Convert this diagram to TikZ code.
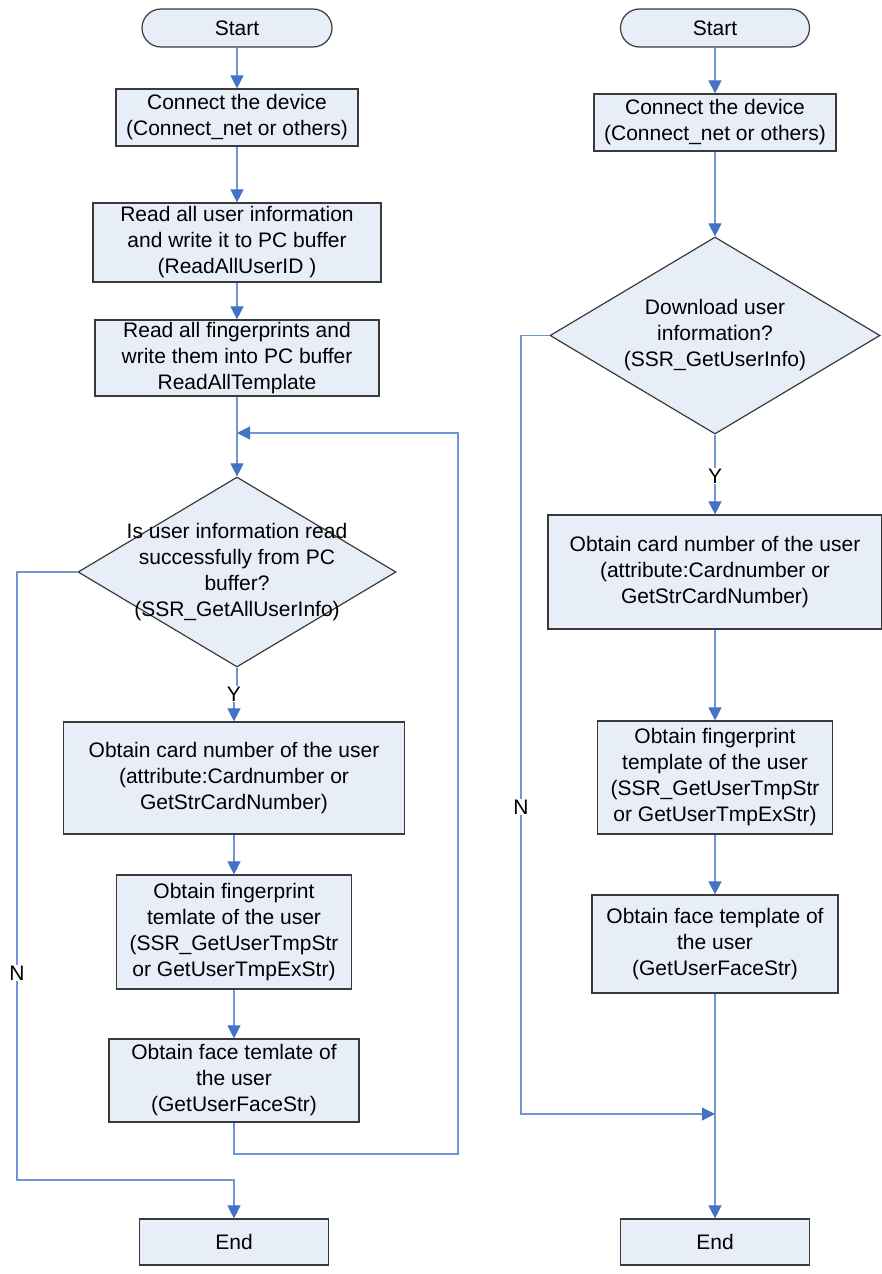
\documentclass[tikz,border=0pt]{standalone}
\usepackage{fontspec}
\setmainfont{Liberation Sans}
\usetikzlibrary{shapes.geometric,arrows.meta}
\definecolor{boxfill}{HTML}{E8EEF8}
\definecolor{boxline}{HTML}{3A3A3A}
\definecolor{connc}{HTML}{6E96D2}
\definecolor{tipc}{HTML}{4472C4}
\begin{document}
\begin{tikzpicture}[x=1pt,y=-1pt,
  every node/.style={font=\fontsize{21}{26}\selectfont, align=center},
  box/.style={draw=boxline, fill=boxfill, line width=1.2pt, inner sep=0pt},
  term/.style={box, rounded corners=19pt},
  dec/.style={draw=boxline, fill=boxfill, line width=1.2pt, diamond, inner sep=0pt},
  link/.style={draw=connc, line width=1.1pt},
  arr/.style={link, -{Triangle[width=13pt,length=13pt,fill=tipc,color=tipc]}},
  lab/.style={fill=white, inner sep=1pt}]
\useasboundingbox (0,0) rectangle (881,1274);

% ---------- left chart ----------
\node[term, minimum width=190, minimum height=38] (ls) at (237,28) {Start};
\node[box, minimum width=242, minimum height=57] (l1) at (237,117.5) {Connect the device\\(Connect\_net or others)};
\node[box, minimum width=288, minimum height=79] (l2) at (237,242.5) {Read all user information\\and write it to PC buffer\\(ReadAllUserID )};
\node[box, minimum width=284, minimum height=76] (l3) at (237,358) {Read all fingerprints and\\write them into PC buffer\\ReadAllTemplate};
\node[dec, minimum width=318, minimum height=190] (ld) at (237,572) {};
\node (ldt) at (237,572) {Is user information read\\successfully from PC\\buffer?\\(SSR\_GetAllUserInfo)};
\node[box, minimum width=341, minimum height=112] (l4) at (234,778) {Obtain card number of the user\\(attribute:Cardnumber or\\GetStrCardNumber)};
\node[box, minimum width=235, minimum height=114] (l5) at (234,932) {Obtain fingerprint\\temlate of the user\\(SSR\_GetUserTmpStr\\or GetUserTmpExStr)};
\node[box, minimum width=250, minimum height=83] (l6) at (234,1080.5) {Obtain face temlate of\\the user\\(GetUserFaceStr)};
\node[box, minimum width=189, minimum height=46] (le) at (234,1242) {End};
\node[lab] (ly) at (234,694) {Y};

\coordinate (lm) at (237,433);
\coordinate (lr) at (458,1154);
\coordinate (lc) at (17,1180);

\draw[arr] (ls.south) -- (l1.north);
\draw[arr] (l1.south) -- (l2.north);
\draw[arr] (l2.south) -- (l3.north);
\draw[arr] (l3.south) -- (ld.north);
\draw[link] (ld.south) -- (ld.south |- ly.north);
\draw[arr] (l4.north |- ly.south) -- (l4.north);
\draw[arr] (l4.south) -- (l5.north);
\draw[arr] (l5.south) -- (l6.north);
\draw[arr] (l6.south) |- (lr) |- (lm);
\draw[arr] (ld.west) -| (lc) -| (le.north);
\node[lab] (ln) at (17,973) {N};

% ---------- right chart ----------
\node[term, minimum width=189, minimum height=38] (rs) at (715,28) {Start};
\node[box, minimum width=242, minimum height=57] (r1) at (715,122.5) {Connect the device\\(Connect\_net or others)};
\node[dec, minimum width=330, minimum height=197] (rd) at (715,335.5) {};
\node (rdt) at (715,335) {Download user\\information?\\(SSR\_GetUserInfo)};
\node[box, minimum width=334, minimum height=114] (r2) at (715,572) {Obtain card number of the user\\(attribute:Cardnumber or\\GetStrCardNumber)};
\node[box, minimum width=235, minimum height=113] (r3) at (715,777.5) {Obtain fingerprint\\template of the user\\(SSR\_GetUserTmpStr\\or GetUserTmpExStr)};
\node[box, minimum width=246, minimum height=98] (r4) at (715,944) {Obtain face template of\\the user\\(GetUserFaceStr)};
\node[box, minimum width=189, minimum height=46] (re) at (715,1242) {End};
\node[lab] (ry) at (715,476) {Y};

\coordinate (rc) at (521,1114);
\coordinate (rm) at (715,1114);

\draw[arr] (rs.south) -- (r1.north);
\draw[arr] (r1.south) -- (rd.north);
\draw[link] (rd.south) -- (ry.north);
\draw[arr] (ry.south) -- (r2.north);
\draw[arr] (r2.south) -- (r3.north);
\draw[arr] (r3.south) -- (r4.north);
\draw[arr] (r4.south) -- (re.north);
\draw[arr] (rd.west) -| (rc) -- (rm);
\node[lab] (rn) at (521,807) {N};
\end{tikzpicture}
\end{document}
